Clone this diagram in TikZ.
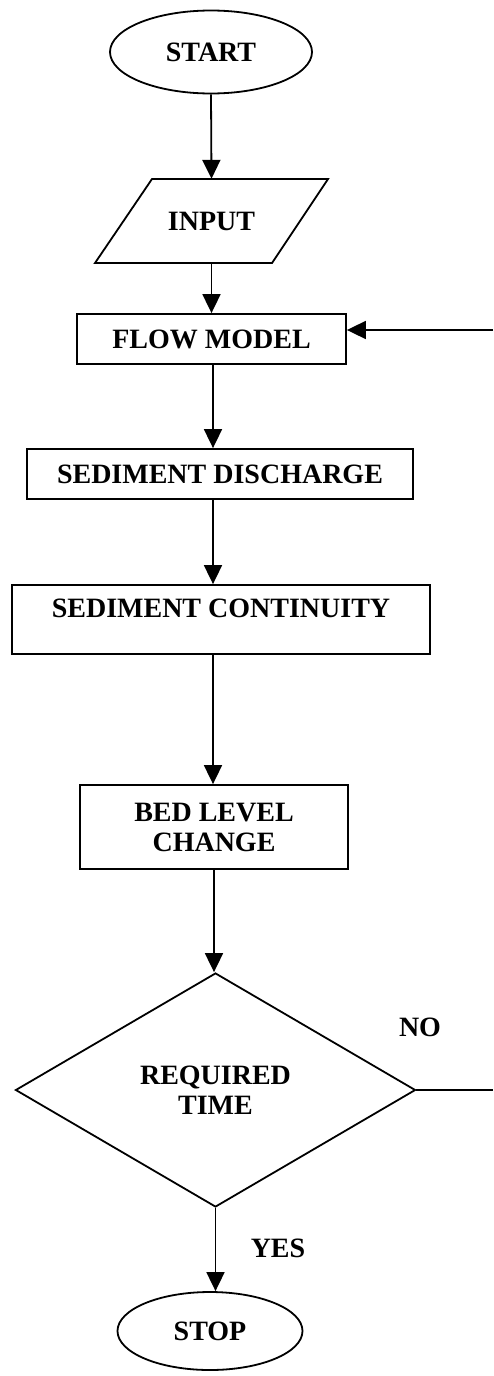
\documentclass[tikz,border=0pt]{standalone}
\usepackage{fontspec}
\setmainfont{Liberation Serif}
\usetikzlibrary{shapes.geometric,arrows.meta}
\begin{document}
\begin{tikzpicture}[x=1pt,y=-1pt,
  every node/.style={font=\fontsize{28}{30}\selectfont\bfseries, inner sep=0pt},
  ln/.style={line width=1.8pt},
  arr/.style={ln,-{Triangle[width=18pt,length=19pt]}},
  term/.style={ln,draw,ellipse},
  proc/.style={ln,draw,rectangle,align=center},
  lbl/.style={}]
\useasboundingbox (0,0) rectangle (493,1376);
% nodes
\node[term,minimum width=202pt,minimum height=83pt] (start) at (211,52) {START};
\node[minimum width=233pt,minimum height=84pt] (input) at (211.5,221) {INPUT};
\draw[ln,line join=miter] (152,179) -- (328,179) -- (272,263) -- (95,263) -- cycle;
\node[proc,minimum width=269pt,minimum height=50pt] (flow) at (211.5,339) {FLOW MODEL};
\node[proc,minimum width=386pt,minimum height=50pt] (sdis) at (220,474) {SEDIMENT DISCHARGE};
\node[proc,minimum width=418pt,minimum height=69pt,text height=19pt,text depth=24pt] (scon) at (221,619.5) {SEDIMENT CONTINUITY};
\node[proc,minimum width=268pt,minimum height=84pt] (bed) at (214,827) {BED LEVEL\\CHANGE};
\node[ln,draw,diamond,aspect=1.71,minimum width=400pt,minimum height=234pt,align=center] (dia) at (215.5,1090) {REQUIRED\\TIME};
\node[term,minimum width=185pt,minimum height=78pt] (stop) at (210,1331) {STOP};
\node[lbl] (no) at (420,1027) {NO};
\node[lbl] (yes) at (278,1248) {YES};
\coordinate (fbtop) at (493,330);
\coordinate (fbbot) at (493,1089);
\coordinate (c1) at (213,0);
% connectors
\draw[arr] (start.south) -- (input.north);
\draw[arr] (input.south) -- (input.south |- flow.north);
\draw[arr] (c1 |- flow.south) -- (c1 |- sdis.north);
\draw[arr] (c1 |- sdis.south) -- (c1 |- scon.north);
\draw[arr] (c1 |- scon.south) -- (c1 |- bed.north);
\draw[arr] (bed.south) -- (bed.south |- dia.north);
\draw[arr] (dia.south) -- (dia.south |- stop.north);
\draw[arr] (fbtop) -- (fbtop -| flow.east);
\draw[ln] (dia.east) -- (fbbot |- dia.east);
\end{tikzpicture}
\end{document}
